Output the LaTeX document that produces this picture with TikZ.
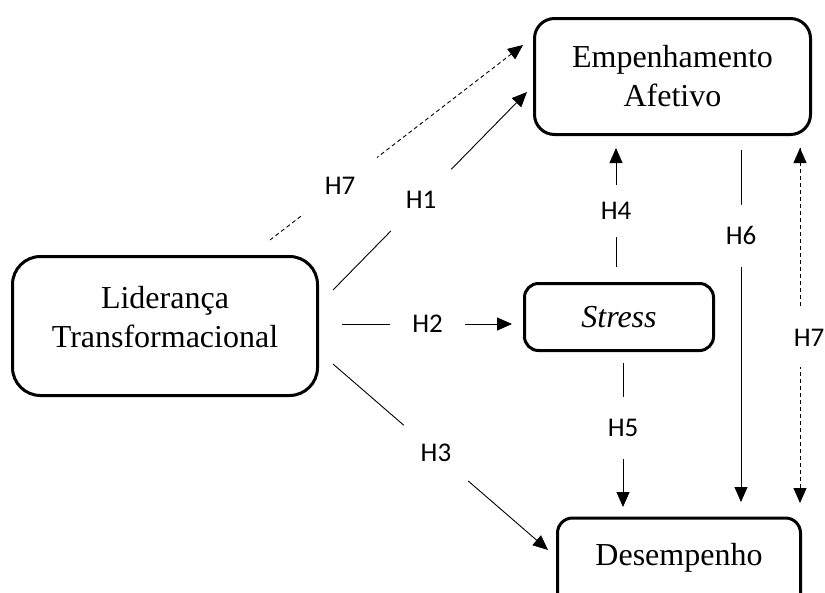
\documentclass[tikz,border=0pt]{standalone}
\usepackage{fontspec}
\setmainfont{Liberation Serif}
\newfontfamily\hfont{Carlito}
\usetikzlibrary{arrows.meta}

\begin{document}
\begin{tikzpicture}[x=1pt,y=-1pt,>={Triangle[length=15pt,width=13pt]},
    box/.style={draw,line width=3pt,align=center,font=\fontsize{32}{39}\selectfont},
    hyp/.style={circle,fill=white,inner sep=0pt,font=\hfont\fontsize{27}{32}\selectfont},
    dsh/.style={dash pattern=on 4pt off 3pt}]
  \useasboundingbox (0,0) rectangle (825,592);

  \node[box,rounded corners=28pt,minimum width=305pt,minimum height=139pt,text depth=18pt] (lt) at (165,326) {Liderança\\Transformacional};
  \node[box,rounded corners=20pt,minimum width=276pt,minimum height=116pt] (ea) at (672.5,76.5) {Empenhamento\\Afetivo};
  \node[box,rounded corners=14pt,minimum width=189pt,minimum height=67pt] (st) at (619,317) {\textit{Stress}};
  \node[box,rounded corners=15pt,minimum width=243pt,minimum height=90pt,text depth=17pt,anchor=north] (de) at (679,516.5) {Desempenho};

  \coordinate (h7a) at (270,240); \coordinate (h7b) at (523,45);
  \coordinate (h1a) at (333,290); \coordinate (h1b) at (527,92);
  \coordinate (h2a) at (342,324); \coordinate (h2b) at (512,324);
  \coordinate (h3a) at (333,364); \coordinate (h3b) at (548,550);
  \coordinate (h4a) at (616,267); \coordinate (h4b) at (616,148);
  \coordinate (h5a) at (623,363); \coordinate (h5b) at (623,507);
  \coordinate (h6a) at (741,150); \coordinate (h6b) at (741,502);
  \coordinate (h7c) at (800,148); \coordinate (h7d) at (800,503);

  \draw[->, line width=.9pt]
    (h7a) edge [dsh] node[hyp,minimum size=93pt,pos=.277] {H7} (h7b)
    (h1a) edge node[hyp,minimum size=86pt,pos=.454] {H1} (h1b)
    (h2a) edge node[hyp,minimum size=75pt,pos=.503] {H2} (h2b)
    (h3a) edge node[hyp,minimum size=85pt,pos=.479] {H3} (h3b)
    (h4a) edge node[hyp,minimum size=52pt,pos=.47] {H4} (h4b)
    (h5a) edge node[hyp,minimum size=62pt,pos=.45] {H5} (h5b)
    (h6a) edge node[hyp,minimum size=62pt,pos=.244] {H6} (h6b)
    (h7c) edge [dsh] node[hyp,minimum size=61pt,pos=.534,xshift=9pt] {H7} (h7d);
\end{tikzpicture}
\end{document}
